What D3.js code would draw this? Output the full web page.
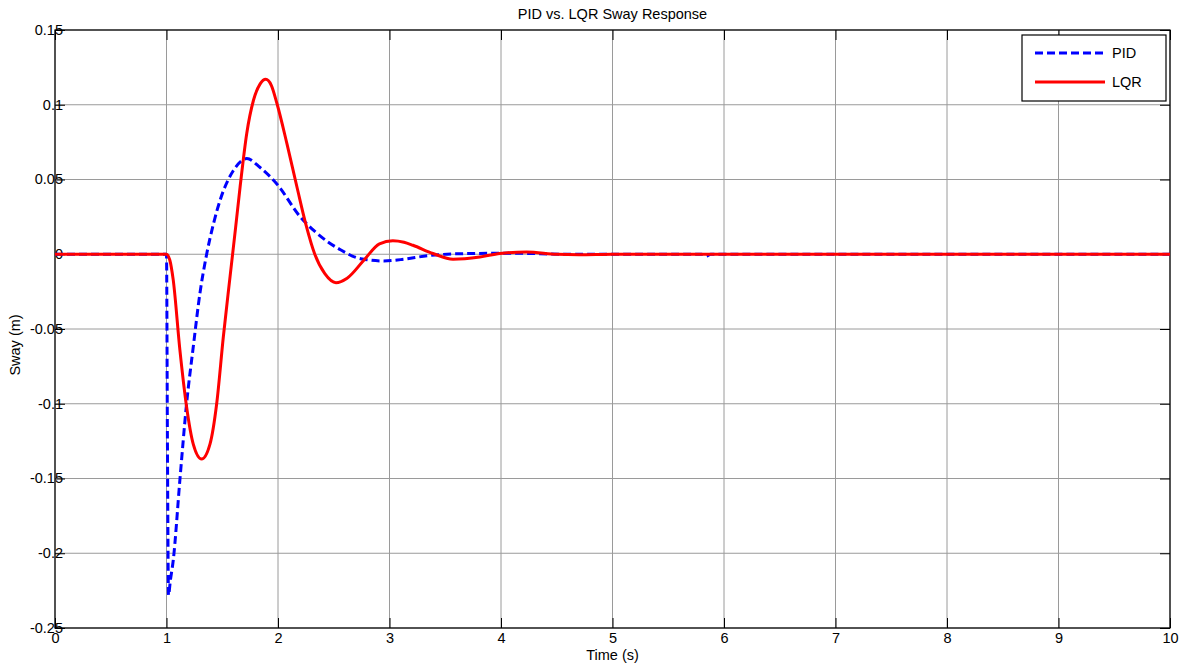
<!DOCTYPE html>
<html>
<head>
<meta charset="utf-8">
<script src="https://cdn.jsdelivr.net/npm/d3@7"></script>
<style>
  body { margin: 0; background: #fff; }
  text { font-family: "Liberation Sans", Arial, sans-serif; fill: #000; }
</style>
</head>
<body>
<svg id="chart"></svg>
<script>
// values
var pidTime = [0, 1.0, 1.008, 1.018, 1.035, 1.06, 1.12, 1.18, 1.24, 1.30, 1.36, 1.42, 1.48, 1.6, 1.72, 1.84, 1.99, 2.2, 2.35, 2.56, 2.74, 2.95, 3.1, 3.36, 3.66, 4.1, 4.6, 5.8, 5.84, 5.88, 10];
var pidSway = [0, 0, -0.12, -0.228, -0.218, -0.205, -0.151, -0.1, -0.062, -0.026, 0.0, 0.02, 0.036, 0.056, 0.064, 0.058, 0.047, 0.025, 0.014, 0.003, -0.003, -0.0045, -0.0036, -0.0008, 0.0004, 0.0007, 0, 0, -0.0012, 0, 0];

var lqrTime = [0, 1.0, 1.03, 1.06, 1.12, 1.18, 1.24, 1.315, 1.39, 1.45, 1.51, 1.57, 1.62, 1.66, 1.72, 1.78, 1.84, 1.89, 1.94, 1.99, 2.08, 2.17, 2.25, 2.33, 2.42, 2.52, 2.62, 2.77, 2.91, 3.03, 3.13, 3.21, 3.39, 3.57, 3.81, 3.99, 4.23, 4.5, 4.7, 5.0, 10];
var lqrSway = [0, 0, -0.004, -0.017, -0.064, -0.102, -0.127, -0.137, -0.127, -0.1, -0.055, -0.015, 0.018, 0.045, 0.081, 0.103, 0.114, 0.117, 0.113, 0.101, 0.074, 0.045, 0.02, 0.0, -0.013, -0.019, -0.016, -0.004, 0.007, 0.009, 0.008, 0.006, 0.0005, -0.0033, -0.0018, 0.0005, 0.0015, 0, -0.0003, 0, 0];

var xTicks = [0, 1, 2, 3, 4, 5, 6, 7, 8, 9, 10];
var yTicks = [-0.25, -0.2, -0.15, -0.1, -0.05, 0, 0.05, 0.1, 0.15];
var seriesNames = ["PID", "LQR"];
var seriesColors = ["#0000ff", "#ff0000"];

var screen = {width: 1190, height: 663};
var margins = {top: 30, right: 20, bottom: 35, left: 55};
var width = screen.width - margins.left - margins.right;
var height = screen.height - margins.top - margins.bottom;
var fontSize = "14.5px";

var svg = d3.select("#chart")
    .attr("width", screen.width)
    .attr("height", screen.height);

var xScale = d3.scaleLinear().domain([0, 10]).range([0, width]);
var yScale = d3.scaleLinear().domain([-0.25, 0.15]).range([height, 0]);

var g = svg.append("g")
    .attr("transform", "translate(" + margins.left + "," + margins.top + ")");

// grid
g.append("g").selectAll("line").data(xTicks).enter().append("line")
    .attr("x1", d => xScale(d)).attr("x2", d => xScale(d))
    .attr("y1", 0).attr("y2", height)
    .attr("stroke", "#9a9a9a").attr("stroke-width", 1);
g.append("g").selectAll("line").data(yTicks).enter().append("line")
    .attr("y1", d => yScale(d)).attr("y2", d => yScale(d))
    .attr("x1", 0).attr("x2", width)
    .attr("stroke", "#9a9a9a").attr("stroke-width", 1);

// axes (MATLAB style, ticks inside)
var fmt = function(d) { return String(+d.toFixed(2)); };
var tickLen = 10;

var xAxis = g.append("g").attr("transform", "translate(0," + height + ")")
    .call(d3.axisBottom(xScale).tickValues(xTicks).tickSize(-tickLen).tickPadding(tickLen + 4).tickFormat(fmt));
var yAxis = g.append("g")
    .call(d3.axisLeft(yScale).tickValues(yTicks).tickSize(-tickLen).tickFormat(fmt));
g.append("g")
    .call(d3.axisTop(xScale).tickValues(xTicks).tickSize(-tickLen).tickFormat(""));
g.append("g").attr("transform", "translate(" + width + ",0)")
    .call(d3.axisRight(yScale).tickValues(yTicks).tickSize(-tickLen).tickFormat(""));

g.selectAll(".domain").remove();
g.selectAll(".tick line").attr("stroke", "#000");
g.selectAll(".tick text").style("font-size", fontSize).style("font-family", "Liberation Sans, Arial, sans-serif");
xAxis.selectAll(".tick text").attr("dy", "0.1em");
yAxis.selectAll(".tick text").attr("x", 8).attr("text-anchor", "end").attr("dy", "0.3em");

g.append("rect")
    .attr("x", 0).attr("y", 0).attr("width", width).attr("height", height)
    .attr("fill", "none").attr("stroke", "#000").attr("stroke-width", 1.2);

// lines
var line = d3.line()
    .x(d => xScale(d[0]))
    .y(d => yScale(d[1]))
    .curve(d3.curveMonotoneX);

var pidData = pidTime.map((t, i) => [t, pidSway[i]]);
var lqrData = lqrTime.map((t, i) => [t, lqrSway[i]]);

g.append("path").datum(pidData)
    .attr("d", line)
    .attr("fill", "none")
    .attr("stroke", seriesColors[0])
    .attr("stroke-width", 3)
    .attr("stroke-dasharray", "8,4");

g.append("path").datum(lqrData)
    .attr("d", line)
    .attr("fill", "none")
    .attr("stroke", seriesColors[1])
    .attr("stroke-width", 3);

// legend
var legend = svg.append("g").attr("transform", "translate(1022,35)");
legend.append("rect")
    .attr("width", 144).attr("height", 66)
    .attr("fill", "#fff").attr("stroke", "#000").attr("stroke-width", 1.2);
seriesNames.forEach(function(name, i) {
    var yy = 18 + i * 29;
    legend.append("line")
        .attr("x1", 13).attr("x2", 83).attr("y1", yy).attr("y2", yy)
        .attr("stroke", seriesColors[i]).attr("stroke-width", 3)
        .attr("stroke-dasharray", i === 0 ? "8,4" : null);
    legend.append("text")
        .attr("x", 90).attr("y", yy).attr("dy", "0.35em")
        .style("font-size", fontSize)
        .text(name);
});

// titles
svg.append("text")
    .attr("x", margins.left + width / 2).attr("y", 19)
    .attr("text-anchor", "middle")
    .style("font-size", fontSize)
    .text("PID vs. LQR Sway Response");

svg.append("text")
    .attr("x", margins.left + width / 2).attr("y", 660)
    .attr("text-anchor", "middle")
    .style("font-size", fontSize)
    .text("Time (s)");

svg.append("text")
    .attr("transform", "translate(20,345) rotate(-90)")
    .attr("text-anchor", "middle")
    .style("font-size", fontSize)
    .text("Sway (m)");
</script>
</body>
</html>
